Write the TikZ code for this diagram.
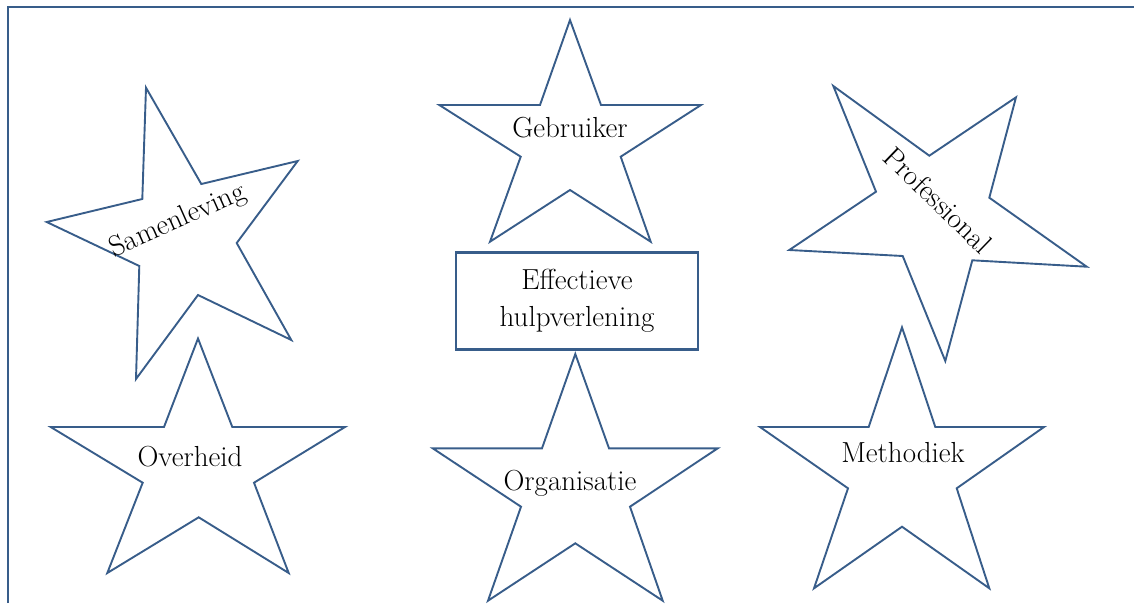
\documentclass[tikz,border=0pt]{standalone}
\usepackage{fontspec}
\definecolor{starblue}{RGB}{56,93,138}
\tikzset{
  starline/.style={draw=starblue, line width=1.9pt, line join=miter},
  boxline/.style={draw=starblue, line width=2.6pt},
  framelin/.style={draw=starblue, line width=1.6pt},
  label/.style={text=black, inner sep=0pt, font=\fontsize{29}{37}\selectfont}
}
\begin{document}
\begin{tikzpicture}[x=1pt, y=-1pt]
\useasboundingbox (0,0) rectangle (1134,603);
% page frame (left and top edges)
\draw[framelin] (8,603) -- (8,7) -- (1134,7);

% Samenleving (tilted star)
\draw[starline] (146,87.7) -- (142.3,199) -- (46.7,222) -- (139.3,266) -- (136,379)
  -- (198,295) -- (291.3,340) -- (236.7,243) -- (297.7,161) -- (201.3,184) -- cycle;
\node[label, rotate=24] (samenleving) at (178,221) {Samenleving};

% Gebruiker
\draw[starline] (570,20) -- (601,105) -- (701,105) -- (620.7,156.7) -- (650.7,241.7)
  -- (570,190) -- (490,241.7) -- (520.7,156.7) -- (439.3,105) -- (540,105) -- cycle;
\node[label] (gebruiker) at (570,128) {Gebruiker};

% Professional (tilted star)
\draw[starline] (833.3,86) -- (929.3,155.7) -- (1016,97.3) -- (989.3,197.7) -- (1086.7,266.7)
  -- (972.3,260.3) -- (945.3,361) -- (902.7,256) -- (789.3,250) -- (876,191.7) -- cycle;
\node[label, rotate=-44] (professional) at (938,200) {Professional};

% central box
\node[boxline, minimum width=242pt, minimum height=97pt, inner sep=0pt] (box) at (577,300.8) {};
\node[label, align=center] (effectief) at (box.center) {Effectieve\\hulpverlening};

% Overheid
\draw[starline] (198,338.5) -- (232.3,427) -- (345,427) -- (254,482.7) -- (288.7,573)
  -- (198.7,517.3) -- (107.3,573) -- (142.7,482.7) -- (50.7,427) -- (164,427) -- cycle;
\node[label] (overheid) at (190,457) {Overheid};

% Organisatie
\draw[starline] (575.3,354) -- (609,448.3) -- (717.7,448.3) -- (630,506.7) -- (662.7,600.7)
  -- (575.3,543.3) -- (488,600.7) -- (521,506.7) -- (432.7,448.3) -- (542,448.3) -- cycle;
\node[label] (organisatie) at (570,483) {Organisatie};

% Methodiek
\draw[starline] (902,327.3) -- (935.3,427) -- (1044,427) -- (956.7,488.3) -- (989.3,588.3)
  -- (902,526.7) -- (814,588.3) -- (848,488.3) -- (760,427) -- (868.7,427) -- cycle;
\node[label] (methodiek) at (903,453) {Methodiek};
\end{tikzpicture}
\end{document}
